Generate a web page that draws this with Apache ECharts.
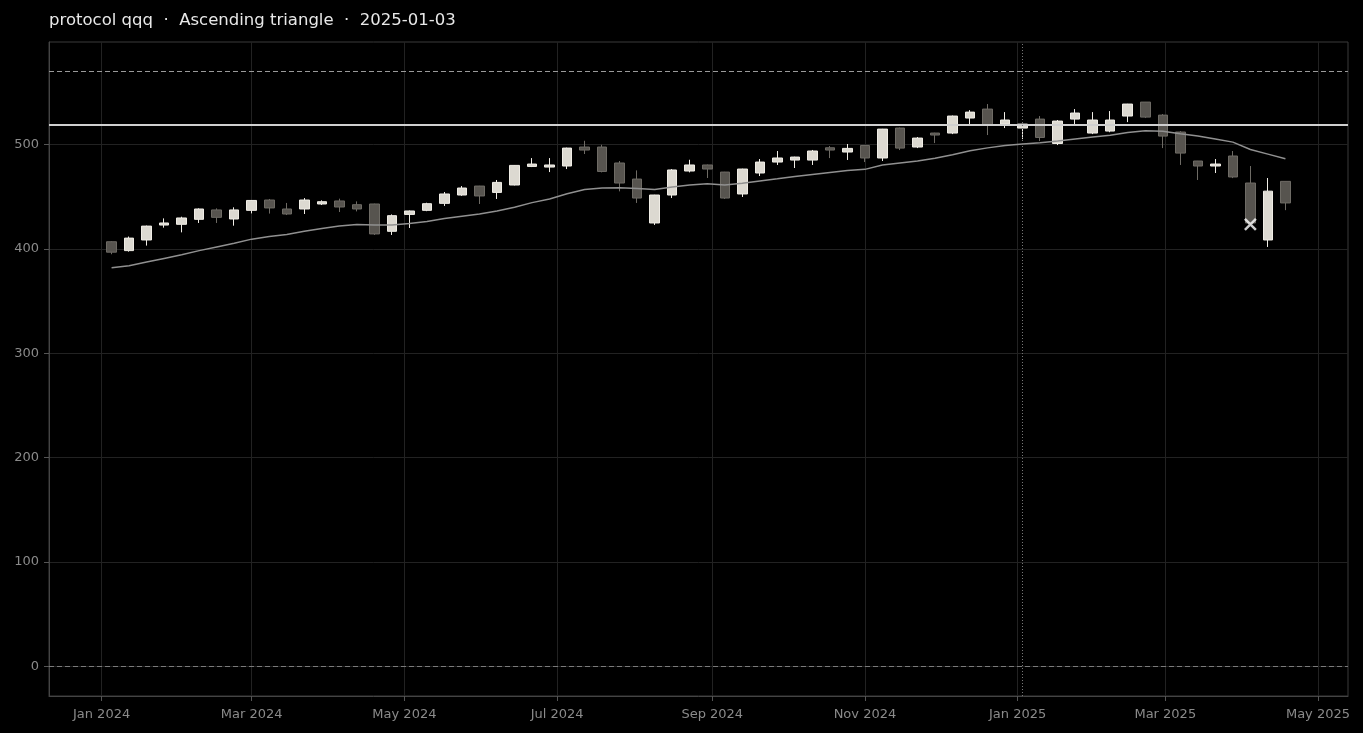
<!DOCTYPE html>
<html><head><meta charset="utf-8">
<script src="https://cdn.jsdelivr.net/npm/echarts@6/dist/echarts.min.js"></script>
<style>html,body{margin:0;padding:0;background:#000;overflow:hidden;} #chart{width:1363px;height:733px;}</style>
</head><body><div id="chart"></div>
<script>
const titleText = 'protocol qqq  \u00b7  Ascending triangle  \u00b7  2025-01-03';
const dates = [
 '2024-01-05','2024-01-12','2024-01-19','2024-01-26','2024-02-02','2024-02-09','2024-02-16','2024-02-23',
 '2024-03-01','2024-03-08','2024-03-15','2024-03-22','2024-03-29','2024-04-05','2024-04-12','2024-04-19',
 '2024-04-26','2024-05-03','2024-05-10','2024-05-17','2024-05-24','2024-05-31','2024-06-07','2024-06-14',
 '2024-06-21','2024-06-28','2024-07-05','2024-07-12','2024-07-19','2024-07-26','2024-08-02','2024-08-09',
 '2024-08-16','2024-08-23','2024-08-30','2024-09-06','2024-09-13','2024-09-20','2024-09-27','2024-10-04',
 '2024-10-11','2024-10-18','2024-10-25','2024-11-01','2024-11-08','2024-11-15','2024-11-22','2024-11-29',
 '2024-12-06','2024-12-13','2024-12-20','2024-12-27','2025-01-03','2025-01-10','2025-01-17','2025-01-24',
 '2025-01-31','2025-02-07','2025-02-14','2025-02-21','2025-02-28','2025-03-07','2025-03-14','2025-03-21',
 '2025-03-28','2025-04-04','2025-04-11','2025-04-18'
];
const opens = [407,398.5,408.7,423,423.7,428.5,437.5,428.8,437.1,447,438.4,438.4,443.2,446.1,442.5,443.2,
 417,433.2,437.1,443.8,451.8,460.4,454.3,461.4,479.2,478.6,479.6,497.8,497.8,482.5,467.1,425,
 451.8,474.8,480.6,473.8,452.8,472.9,483.4,485.3,485.3,497.1,493,499.3,487.3,516,497.8,511.2,
 511.2,525.6,534.2,519.8,516,524.6,501.2,524.6,511.2,513.1,527.5,540.9,528.4,512.2,484.4,479.6,
 489.2,463.3,408.7,464.9];
const closes = [397,410.5,422,425,429.8,438.4,430.4,437.5,446.6,439.4,433.6,447,445.4,440.3,438.4,414.5,
 432,436.5,443.5,452.8,458.5,450.9,463.9,480.2,481.5,480.6,496.8,494.9,474.4,463.3,448.9,451.8,
 475.8,480.6,476.7,448.9,476.7,483.4,487.3,488.2,494,494.9,496.5,487.3,515,496.8,506.4,509.3,
 527.5,531.3,518.9,523.7,519.8,507,522.7,530.4,523.7,523.7,539,526.5,508.3,492,479.6,481.5,
 469.1,425,455.5,444.2];
const lows = [395,397.5,403.3,420.5,416,425,425,422.4,434.2,434,432.6,433.6,442.2,435.5,436.1,413.5,
 413.5,420.2,436.3,441.3,451,443.2,448,461,478.6,473.8,476.7,491.1,473.5,455.3,444.2,423.1,
 448.9,473.5,468.1,448,449.9,470,480.6,477.7,480.6,487.2,485.4,483.4,484.4,494.9,496.8,501.6,
 510.2,519.2,509.3,516,505.4,503.5,499.7,519.8,510.2,512,521.7,525.6,496.8,480.6,466.2,472.9,
 468,423,402,437.3];
const highs = [407.5,412,422.5,429.4,431,439,439,440,447,448,444.2,448.9,446.7,448.3,445.7,443.5,
 433.2,437,444.4,454.7,460.4,460.6,466.2,480.5,487.2,487.2,497.2,503.8,500,484.4,475.4,452,
 476.7,485.6,481,474,477,486.3,494,488.5,495,498.8,500.7,499.5,515.2,516.5,507.4,511.5,
 528,533.2,539,531.3,520,527.5,523.7,534.2,531.3,532.3,539.2,541,529.4,513.1,484.5,486.3,
 494,479.6,468.1,465];
const maValues = [382,384,387.5,391,394.5,398.5,402,405.5,409.5,412,414,417,419.8,422,423.5,423,
 423,424.5,426.5,429.3,431.5,433.5,436.5,440,444.5,448,453,457,458.5,458.8,458,457,
 459.5,461.5,462.5,461.5,463,465.3,467.3,469.5,471.5,473.5,475.2,476.4,480.5,482.5,484.5,487,
 490.5,494.3,497,499.2,500.8,502,503.5,505.5,507.5,509,511.8,513.3,513,510.5,508.3,505.5,
 502.5,495.5,491,486.5];
const monthTicks = ['2024-01-01','2024-03-01','2024-05-01','2024-07-01','2024-09-01','2024-11-01','2025-01-01','2025-03-01','2025-05-01'];
const monthNames = ['Jan','Feb','Mar','Apr','May','Jun','Jul','Aug','Sep','Oct','Nov','Dec'];
const yTicks = [0,100,200,300,400,500];
const resistanceLevel = [519.5];
const targetLevel = [570];
const baseLevel = [0];
const patternDate = ['2025-01-03'];
const markerPoint = [['2025-04-04', 423.7]];
const xRange = ['2023-12-11','2025-05-13'];
const yRange = [-28.5, 598.5];

const ts = s => { const p = s.split('-').map(Number); return Date.UTC(p[0], p[1]-1, p[2]); };
const fmtMonth = v => { const d = new Date(v); return monthNames[d.getUTCMonth()] + ' ' + d.getUTCFullYear(); };

const candleData = dates.map((d,i)=>[ts(d), opens[i], closes[i], lows[i], highs[i]]);
const maData = dates.map((d,i)=>[ts(d), maValues[i]]);
const font = 'DejaVu Sans';

const chart = echarts.init(document.getElementById('chart'), null, {renderer:'canvas'});
chart.setOption({
  backgroundColor: '#000000',
  animation: false,
  title: {
    text: titleText, left: 49, top: 12, padding: 0,
    textStyle: {color:'#e8e8e8', fontSize:16.5, fontWeight:'normal', fontFamily: font}
  },
  grid: {left:49, right:15, top:42, bottom:37, show:true, borderColor:'#3a3a3a', borderWidth:1, containLabel:false},
  xAxis: {
    type:'value', min: ts(xRange[0]), max: ts(xRange[1]),
    axisLine: {show:true, onZero:false, lineStyle:{color:'#444444'}},
    axisTick: {show:true, customValues: monthTicks.map(ts), length:5, lineStyle:{color:'#555555'}},
    axisLabel: {customValues: monthTicks.map(ts), formatter: fmtMonth, color:'#8a8a8a', fontSize:13, margin:12, fontFamily: font},
    splitLine: {show:true, lineStyle:{color:'#222222', width:1}}
  },
  yAxis: {
    type:'value', min: yRange[0], max: yRange[1],
    axisLine: {show:true, onZero:false, lineStyle:{color:'#444444'}},
    axisTick: {show:true, customValues: yTicks, length:5, lineStyle:{color:'#555555'}},
    axisLabel: {customValues: yTicks, color:'#8a8a8a', fontSize:13, margin:10, fontFamily: font},
    splitLine: {show:true, lineStyle:{color:'#222222', width:1}}
  },
  series: [
    {
      type:'candlestick', name:'price', data: candleData,
      dimensions: ['date','open','close','lowest','highest'],
      encode: {x:'date', y:['open','close','lowest','highest']},
      barWidth: 10,
      itemStyle: {color:'#dcd9d1', color0:'#57544f', borderColor:'#f0ede6', borderColor0:'#6e6b65', borderWidth:1},
      z: 3
    },
    {
      type:'line', name:'ma', data: maData, symbol:'none', smooth:false,
      lineStyle: {color:'#909090', width:1.5}, z: 4,
      markLine: {
        silent:true, symbol:['none','none'], label:{show:false},
        data: [
          {yAxis: resistanceLevel[0], lineStyle:{color:'#cfcfcf', width:1.8, type:'solid'}},
          {yAxis: targetLevel[0], lineStyle:{color:'#9a9a9a', width:1.2, type:[5,3]}},
          {yAxis: baseLevel[0], lineStyle:{color:'#7a7a7a', width:1.2, type:[5,3]}},
          {xAxis: ts(patternDate[0]), lineStyle:{color:'#777777', width:1, type:[1,2]}}
        ]
      }
    },
    {
      type:'scatter', name:'marker', data: markerPoint.map(p=>[ts(p[0]), p[1]]),
      symbol:'path://M0,0L10,10M10,0L0,10', symbolSize:11,
      itemStyle: {color:'rgba(0,0,0,0)', borderColor:'#ffffff', borderWidth:2.5}, z: 6
    }
  ]
});
</script>
</body></html>
